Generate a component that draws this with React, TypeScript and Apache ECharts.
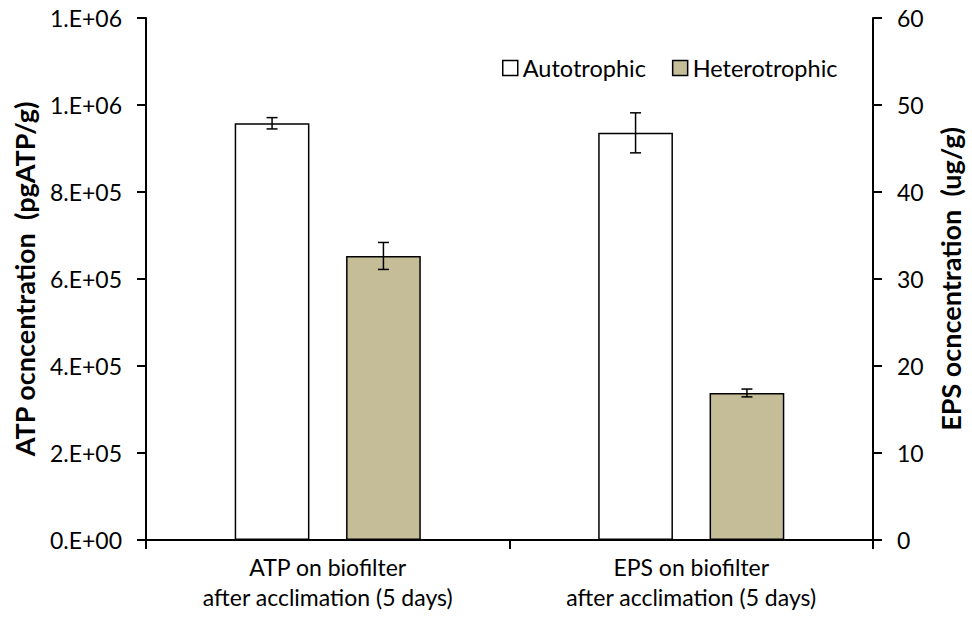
import React, { useEffect, useRef } from "react";
import * as echarts from "echarts";

const categories = [
  "ATP on biofilter\nafter acclimation (5 days)",
  "EPS on biofilter\nafter acclimation (5 days)",
];
const seriesNames = ["Autotrophic", "Heterotrophic"];
// [Autotrophic, Heterotrophic]
const atpMeans = [958000, 653000];
const atpErrors = [13000, 31000];
const epsMeans = [46.8, 16.9];
const epsErrors = [2.3, 0.45];
const leftTickLabels = ["0.E+00", "2.E+05", "4.E+05", "6.E+05", "8.E+05", "1.E+06", "1.E+06"];
const rightTicks = [0, 10, 20, 30, 40, 50, 60];

const FONT = "Lato";
const LABEL_SIZE = 23;
const CAT_GAP = 0.488;
const BAR_GAP = 0.49;
const fills = ["#FFFFFF", "#C4BD97"];

function errorSeries(name: string, yAxisIndex: number, catIndex: number, mean: number, err: number, side: number) {
  return {
    type: "custom",
    name,
    yAxisIndex,
    silent: true,
    z: 10,
    data: [[catIndex, mean, err]],
    renderItem: (params: any, api: any) => {
      const x = api.value(0);
      const m = api.value(1);
      const e = api.value(2);
      const c = api.coord([x, m]);
      const bw = api.size([1, 0])[0];
      const barW = (bw * (1 - CAT_GAP)) / (2 + BAR_GAP);
      const cx = c[0] + (side * barW * (1 + BAR_GAP)) / 2;
      const top = api.coord([x, m + e])[1];
      const bot = api.coord([x, m - e])[1];
      const cap = 5.5;
      const st = { stroke: "#000", lineWidth: 1.5 };
      return {
        type: "group",
        children: [
          { type: "line", shape: { x1: cx, y1: top, x2: cx, y2: bot }, style: st },
          { type: "line", shape: { x1: cx - cap, y1: top, x2: cx + cap, y2: top }, style: st },
          { type: "line", shape: { x1: cx - cap, y1: bot, x2: cx + cap, y2: bot }, style: st },
        ],
      };
    },
  };
}

function barSeries(i: number, yAxisIndex: number, data: any[]) {
  return {
    type: "bar",
    name: seriesNames[i],
    stack: "s" + i,
    yAxisIndex,
    data,
    barCategoryGap: CAT_GAP * 100 + "%",
    barGap: BAR_GAP * 100 + "%",
    itemStyle: { color: fills[i], borderColor: "#000", borderWidth: 1.5 },
  };
}

export default function App() {
  const ref = useRef<HTMLDivElement>(null);
  useEffect(() => {
    if (!ref.current) return;
    const chart = echarts.init(ref.current, undefined, { renderer: "svg" });
    const axisLine = { show: true, lineStyle: { color: "#000", width: 2 } };
    const axisTick = { show: true, length: 9, lineStyle: { color: "#000", width: 2 } };
    chart.setOption({
      animation: false,
      backgroundColor: "#fff",
      grid: { left: 146, right: 96, top: 18, bottom: 81, containLabel: false },
      legend: {
        data: seriesNames,
        left: 497,
        top: 51,
        icon: "rect",
        itemWidth: 15,
        itemHeight: 15,
        itemGap: 26,
        textStyle: { fontFamily: FONT, fontSize: 23.5, color: "#000" },
        itemStyle: { borderColor: "#000", borderWidth: 1.5 },
      },
      xAxis: {
        type: "category",
        data: categories,
        axisLine,
        axisTick: { ...axisTick, alignWithLabel: false },
        axisLabel: { fontFamily: FONT, fontSize: LABEL_SIZE, color: "#000", lineHeight: 30, margin: 12 },
      },
      yAxis: [
        {
          type: "value",
          min: 0,
          max: 1200000,
          interval: 200000,
          position: "left",
          name: "ATP ocncentration  (pgATP/g)",
          nameLocation: "middle",
          nameRotate: 90,
          nameGap: 108,
          nameTextStyle: { fontFamily: FONT, fontSize: 27, fontWeight: "bold", color: "#000" },
          axisLine,
          axisTick,
          splitLine: { show: false },
          axisLabel: {
            fontFamily: FONT,
            fontSize: LABEL_SIZE,
            color: "#000",
            margin: 24,
            formatter: (v: number) => leftTickLabels[Math.round(v / 200000)],
          },
        },
        {
          type: "value",
          min: rightTicks[0],
          max: rightTicks[rightTicks.length - 1],
          interval: 10,
          position: "right",
          name: "EPS ocncentration  (ug/g)",
          nameLocation: "middle",
          nameRotate: 90,
          nameGap: 64,
          nameTextStyle: { fontFamily: FONT, fontSize: 27, fontWeight: "bold", color: "#000" },
          axisLine,
          axisTick,
          splitLine: { show: false },
          axisLabel: { fontFamily: FONT, fontSize: LABEL_SIZE, color: "#000", margin: 24 },
        },
      ],
      series: [
        barSeries(0, 0, [atpMeans[0], "-"]),
        barSeries(1, 0, [atpMeans[1], "-"]),
        barSeries(0, 1, ["-", epsMeans[0]]),
        barSeries(1, 1, ["-", epsMeans[1]]),
        errorSeries("errA0", 0, 0, atpMeans[0], atpErrors[0], -1),
        errorSeries("errA1", 0, 0, atpMeans[1], atpErrors[1], 1),
        errorSeries("errE0", 1, 1, epsMeans[0], epsErrors[0], -1),
        errorSeries("errE1", 1, 1, epsMeans[1], epsErrors[1], 1),
      ],
    });
    return () => chart.dispose();
  }, []);
  return <div ref={ref} style={{ position: "fixed", left: 0, top: 0, width: 972, height: 621 }} />;
}
